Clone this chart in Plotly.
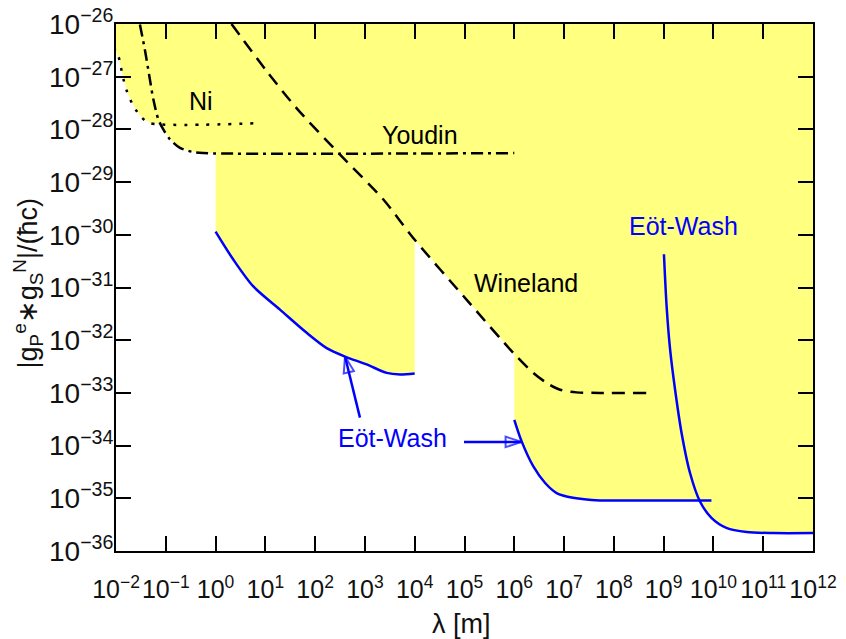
import numpy as np
import plotly.graph_objects as go

# ---- limit curves, stored as log10(lambda / m) and log10(|gP^e gS^N| / (hbar c)) ----
ni_loglam = [-2.05, -1.95, -1.90, -1.85, -1.78, -1.68, -1.58, -1.48, -1.32, 0.88]
ni_logg = [-26.45, -26.62, -26.83, -27.05, -27.28, -27.50, -27.66, -27.78, -27.88, -27.88]

youdin_loglam = [-1.52, -1.42, -1.33, -1.25, -1.15, -1.05, -0.915, -0.715, -0.447, -0.25, 6.0]
youdin_logg = [-26.01, -26.49, -26.99, -27.43, -27.81, -28.00, -28.19, -28.35, -28.43, -28.45, -28.45]

wineland_loglam = [0.32, 1.03, 1.63, 2.50, 3.37, 3.97, 5.04, 5.98, 6.38, 6.65, 6.92, 7.25, 7.72, 8.66]
wineland_logg = [-26.00, -26.90, -27.60, -28.48, -29.33, -30.06, -31.23, -32.24, -32.62, -32.81,
                 -32.94, -32.99, -33.00, -33.00]

ew_short_loglam = [0.0, 0.356, 0.758, 1.294, 1.83, 2.232, 2.60, 3.035, 3.437, 3.704, 4.0]
ew_short_logg = [-29.94, -30.47, -30.98, -31.42, -31.86, -32.15, -32.31, -32.46, -32.62, -32.65, -32.63]

ew_mid_loglam = [6.0, 6.148, 6.38, 6.62, 6.85, 7.18, 7.72, 8.38, 9.96]
ew_mid_logg = [-33.51, -33.92, -34.39, -34.71, -34.90, -34.99, -35.04, -35.04, -35.04]

ew_long_loglam = [9.006, 9.06, 9.13, 9.23, 9.36, 9.53, 9.73, 9.96, 10.26, 10.67, 11.2, 12.0]
ew_long_logg = [-30.37, -31.36, -32.18, -32.94, -33.76, -34.52, -35.06, -35.37, -35.56, -35.64,
                -35.66, -35.66]

# axis extents (log10) and tick labels
x_decades = list(range(-2, 13))
y_decades = list(range(-36, -25))


def pow10_label(k):
    sign = "\u2212" if k < 0 else ""
    return f"10<sup>{sign}{abs(k)}</sup>"


x_ticktext = [pow10_label(k) for k in x_decades]
y_ticktext = [pow10_label(k) for k in y_decades]

# curve labels: (text, log10 lambda, log10 g, colour)
labels = [
    ("Ni", -0.29, -27.47, "black"),
    ("Youdin", 4.10, -28.10, "black"),
    ("Wineland", 6.24, -30.91, "black"),
    ("Eöt-Wash", 3.56, -33.85, "blue"),
    ("Eöt-Wash", 9.39, -29.84, "blue"),
]

# pointer arrows from the lower Eöt-Wash label: (tail lambda, tail g, tip lambda, tip g), log10
arrows = [
    (2.90, -33.47, 2.60, -32.31),
    (4.99, -33.93, 6.15, -33.93),
]

# ---- excluded region: everything above the lower envelope of all limits ----
curves = [
    (ni_loglam, ni_logg),
    (youdin_loglam, youdin_logg),
    (wineland_loglam, wineland_logg),
    (ew_short_loglam, ew_short_logg),
    (ew_mid_loglam, ew_mid_logg),
    (ew_long_loglam, ew_long_logg),
]
xmin, xmax = x_decades[0], x_decades[-1]
ytop = y_decades[-1]
breaks = np.concatenate([np.asarray(c[0], float) for c in curves])
grid = np.union1d(np.linspace(xmin, xmax, 2801),
                  np.concatenate([breaks - 1e-6, breaks, breaks + 1e-6]))
grid = grid[(grid >= xmin) & (grid <= xmax)]
env = np.full_like(grid, np.inf)
for cx, cy in curves:
    cx = np.asarray(cx, float)
    cy = np.asarray(cy, float)
    m = (grid >= cx[0]) & (grid <= cx[-1])
    env[m] = np.minimum(env[m], np.interp(grid[m], cx, cy))
env = np.minimum(env, ytop)

poly_x = np.concatenate([grid, [xmax, xmin]])
poly_y = np.concatenate([env, [ytop, ytop]])

fig = go.Figure()
fig.add_trace(go.Scatter(
    x=10.0 ** poly_x, y=10.0 ** poly_y, mode="lines", fill="toself",
    fillcolor="#FFFF80", line=dict(width=0, color="#FFFF80"), hoverinfo="skip",
    showlegend=False,
))


def add_curve(lx, ly, color, dash, width=2.5):
    fig.add_trace(go.Scatter(
        x=10.0 ** np.asarray(lx), y=10.0 ** np.asarray(ly), mode="lines",
        line=dict(color=color, width=width, dash=dash, shape="spline", smoothing=0.8),
        showlegend=False,
    ))


add_curve(ni_loglam, ni_logg, "black", "3px,8px", 2.5)
add_curve(youdin_loglam, youdin_logg, "black", "12px,5px,3px,5px", 2.5)
add_curve(wineland_loglam, wineland_logg, "black", "13px,8px", 2.5)
add_curve(ew_short_loglam, ew_short_logg, "blue", "solid", 2.5)
add_curve(ew_mid_loglam, ew_mid_logg, "blue", "solid", 2.5)
add_curve(ew_long_loglam, ew_long_logg, "blue", "solid", 2.5)

for tx, ty, hx, hy in arrows:
    fig.add_trace(go.Scatter(
        x=[10.0 ** tx, 10.0 ** hx], y=[10.0 ** ty, 10.0 ** hy], mode="lines+markers",
        line=dict(color="blue", width=2.5),
        marker=dict(symbol="arrow-open", size=[0, 17], angleref="previous",
                    color="blue", line=dict(color="blue", width=2)),
        showlegend=False, hoverinfo="skip",
    ))

FONT = "Liberation Sans, Arial, sans-serif"

for text, lx, ly, color in labels:
    fig.add_annotation(x=lx, y=ly, xref="x", yref="y", text=text, showarrow=False,
                       font=dict(family=FONT, size=25, color=color))

axis_common = dict(
    type="log", showline=True, linecolor="black", linewidth=2, mirror="ticks",
    ticks="inside", ticklen=15, tickwidth=1.5, tickcolor="black",
    showgrid=False, zeroline=False, tickangle=0, automargin=False,
)
fig.update_xaxes(range=[xmin, xmax], tickmode="array", ticklabelstandoff=15,
                 tickfont=dict(family=FONT, size=25, color="#111111"),
                 tickvals=[10.0 ** k for k in x_decades], ticktext=x_ticktext, **axis_common)
fig.update_yaxes(range=[y_decades[0], ytop], tickmode="array", ticklabelstandoff=-5,
                 tickfont=dict(family=FONT, size=28, color="#111111"),
                 tickvals=[10.0 ** k for k in y_decades], ticktext=y_ticktext, **axis_common)

fig.add_annotation(x=0.4964, y=-0.139, xref="paper", yref="paper", text="λ [m]",
                   showarrow=False, font=dict(family=FONT, size=27, color="#111111"),
                   xanchor="center", yanchor="middle")
fig.add_annotation(x=-0.126, y=0.508, xref="paper", yref="paper", textangle=-90,
                   text="|g<sub>P</sub><sup>e</sup>∗g<sub>S</sub><sup>N</sup>|/(ħc)",
                   showarrow=False, font=dict(family=FONT, size=27, color="#111111"),
                   xanchor="center", yanchor="middle")

fig.update_layout(
    width=846, height=639, margin=dict(l=116, r=33, t=24, b=88),
    paper_bgcolor="white", plot_bgcolor="white", showlegend=False,
)

fig.write_html("out.html")
